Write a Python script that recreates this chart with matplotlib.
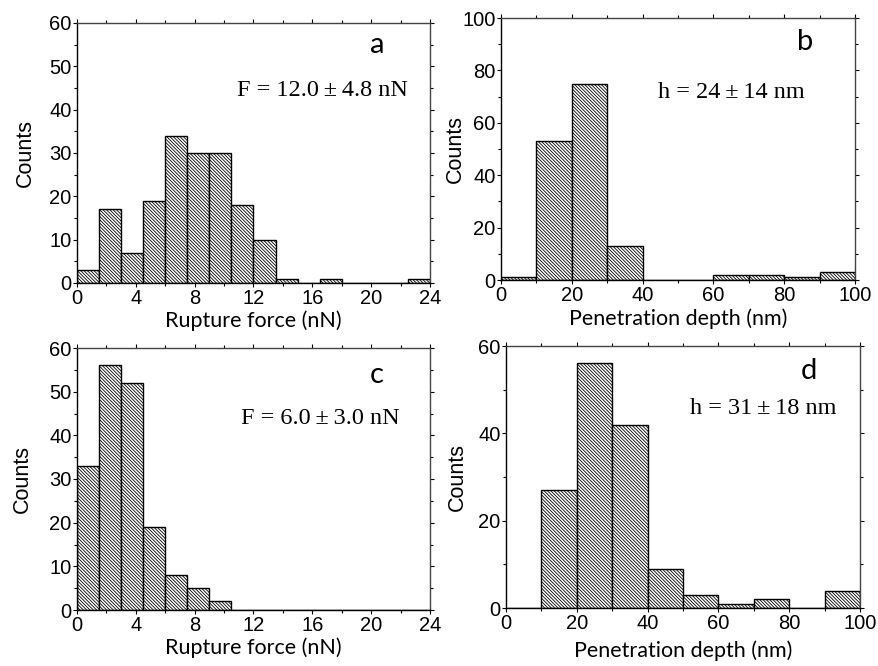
import matplotlib
matplotlib.use("Agg")
import matplotlib.pyplot as plt
import numpy as np
from matplotlib.ticker import MultipleLocator

# ---- data ----
force_edges = np.arange(0, 24.01, 1.5)
force_a = [3, 17, 7, 19, 34, 30, 30, 18, 10, 1, 0, 1, 0, 0, 0, 1]
force_c = [33, 56, 52, 19, 8, 5, 2, 0, 0, 0, 0, 0, 0, 0, 0, 0]
depth_edges = np.arange(0, 100.01, 10)
depth_b = [1, 53, 75, 13, 0, 0, 2, 2, 1, 3]
depth_d = [0, 27, 56, 42, 9, 3, 1, 2, 0, 4]

letters = ["a", "b", "c", "d"]
notes = ["F = 12.0\u2009\u00b1\u20094.8 nN", "h = 24\u2009\u00b1\u200914 nm",
         "F = 6.0\u2009\u00b1\u20093.0 nN", "h = 31\u2009\u00b1\u200918 nm"]
xlabels = ["Rupture force (nN)", "Penetration depth (nm)", "Rupture force (nN)", "Penetration depth (nm)"]

plt.rcParams['hatch.linewidth'] = 0.6
plt.rcParams['font.family'] = ['Liberation Sans', 'DejaVu Sans']

W, H = 879, 666
fig = plt.figure(figsize=(W / 100, H / 100), dpi=100)

def rect(l, r, t, b):
    return [l / W, 1 - b / H, (r - l) / W, (b - t) / H]

px_boxes = [(77, 430, 23, 283), (501, 855, 18, 280), (77, 430, 348, 610), (506, 860, 346, 608)]

panels = [
    (force_edges, force_a, 24, 60, 4, 2, 10, 5),
    (depth_edges, depth_b, 100, 100, 20, 10, 20, 10),
    (force_edges, force_c, 24, 60, 4, 2, 10, 5),
    (depth_edges, depth_d, 100, 60, 20, 10, 20, 10),
]

# text positions in pixels
letter_pos = [(377, 45), (805, 42), (377, 375), (809, 371)]
note_pos = [(322, 90), (731, 93), (320, 419), (763, 409)]
xlab_y = [321, 319, 648, 651]
ylab_x = [25, 455, 22, 457]

for i, (edges, counts, xmax, ymax, xmaj, xmin, ymaj, ymin) in enumerate(panels):
    l_px, r_px, t_px, b_px = px_boxes[i]
    w_px, h_px = r_px - l_px, b_px - t_px
    ax = fig.add_axes(rect(l_px, r_px, t_px, b_px))
    ax.bar(edges[:-1], counts, width=np.diff(edges), align='edge',
           facecolor='white', edgecolor='black', linewidth=1.0, hatch='\\' * 10)
    ax.set_xlim(0, xmax)
    ax.set_ylim(0, ymax)
    ax.xaxis.set_major_locator(MultipleLocator(xmaj))
    ax.xaxis.set_minor_locator(MultipleLocator(xmin))
    ax.yaxis.set_major_locator(MultipleLocator(ymaj))
    ax.yaxis.set_minor_locator(MultipleLocator(ymin))
    ax.tick_params(which='major', direction='out', length=3, width=0.8, labelsize=14.5, pad=1,
                   top=True, right=True)
    ax.tick_params(which='minor', direction='out', length=2, width=0.8, top=True, right=True)
    for s in ax.spines.values():
        s.set_linewidth(1.0)
    for s in ['top', 'right']:
        ax.spines[s].set_color('#444444')

    ax.set_xlabel(xlabels[i], fontsize=15.5, family=['Lato', 'DejaVu Sans'])
    ax.xaxis.set_label_coords(0.5, -(xlab_y[i] - b_px) / h_px)
    ax.xaxis.label.set_va('center')
    ax.set_ylabel("Counts", fontsize=15.5)
    ax.yaxis.set_label_coords((ylab_x[i] - l_px) / w_px, 0.5)
    ax.yaxis.label.set_va('center')

    lx, ly = letter_pos[i]
    fig.text(lx / W, 1 - ly / H, letters[i], fontsize=21, family=['Lato', 'DejaVu Sans'],
             ha='center', va='center')
    nx, ny = note_pos[i]
    fig.text(nx / W, 1 - ny / H, notes[i], fontsize=17.5,
             family=['Liberation Serif', 'DejaVu Serif'], ha='center', va='center')

fig.savefig("out.png", dpi=100)
